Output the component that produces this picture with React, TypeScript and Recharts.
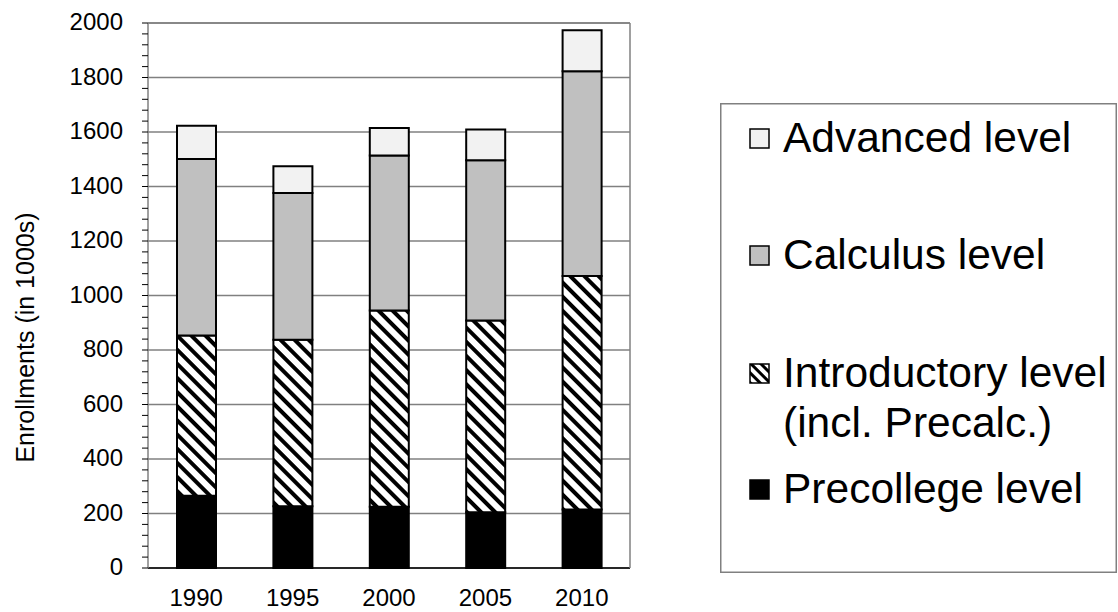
import { Bar, BarChart, CartesianGrid, Legend, XAxis, YAxis } from "recharts";

const years = ["1990", "1995", "2000", "2005", "2010"];
const precollege = [265, 227, 225, 205, 215];
const introductory = [588, 611, 720, 703, 857];
const calculus = [648, 538, 569, 588, 751];
const advanced = [122, 98, 101, 113, 150];

const majorTicks = [0, 200, 400, 600, 800, 1000, 1200, 1400, 1600, 1800, 2000];
// minor tick marks every 40 between the labelled ones
const minorTicks = Array.from({ length: 51 }, (_, i) => i * 40);
const edgeTicks = [0, 1, 2, 3, 4, 5];

const FONT = '"Liberation Sans", Arial, sans-serif';

const data = years.map((year, i) => ({
  year,
  precollege: precollege[i],
  introductory: introductory[i],
  calculus: calculus[i],
  advanced: advanced[i],
}));

const legendRows = [
  { label: ["Advanced level"], fill: "#f2f2f2", y: 49 },
  { label: ["Calculus level"], fill: "#c0c0c0", y: 166 },
  { label: ["Introductory level", "(incl. Precalc.)"], fill: "url(#hatchSmall)", y: 284 },
  { label: ["Precollege level"], fill: "#000", y: 400 },
];

function YTick({ x, y, payload }: any) {
  if (payload.value % 200 !== 0) return <g />;
  return (
    <text x={x} y={y} dy={7} textAnchor="end" fontFamily={FONT} fontSize={24} fill="#000">
      {payload.value}
    </text>
  );
}

function YLabel({ viewBox }: any) {
  const cx = 25;
  const cy = viewBox.y + viewBox.height / 2 + 42;
  return (
    <text
      x={cx}
      y={cy}
      transform={`rotate(-90, ${cx}, ${cy})`}
      textAnchor="middle"
      dominantBaseline="central"
      fontFamily={FONT}
      fontSize={25}
      fill="#000"
    >
      Enrollments (in 1000s)
    </text>
  );
}

function LegendBox() {
  return (
    <svg width={397} height={470} style={{ display: "block" }}>
      <defs>
        <pattern id="hatchSmall" patternUnits="userSpaceOnUse" width={7} height={7} patternTransform="rotate(45)">
          <rect width={7} height={7} fill="#fff" />
          <rect width={7} height={3} fill="#000" />
        </pattern>
      </defs>
      <rect x={0.75} y={0.75} width={395.5} height={468.5} fill="#fff" stroke="#808080" strokeWidth={1.5} />
      {legendRows.map((r) => (
        <g key={r.label[0]}>
          <rect x={30} y={r.y - 23} width={19} height={19} fill={r.fill} stroke="#000" strokeWidth={1.5} />
          {r.label.map((line, j) => (
            <text key={line} x={63} y={r.y + j * 50} fontFamily={FONT} fontSize={42.5} fill="#000">
              {line}
            </text>
          ))}
        </g>
      ))}
    </svg>
  );
}

export default function App() {
  return (
    <div style={{ position: "absolute", left: 0, top: 0, width: 1118, height: 612, background: "#fff" }}>
      <BarChart
        width={1118}
        height={612}
        data={data}
        margin={{ top: 22, right: 487, bottom: 0, left: 0 }}
        barSize={39}
      >
        <defs>
          <pattern id="hatch" patternUnits="userSpaceOnUse" width={10} height={10} patternTransform="rotate(45)">
            <rect width={10} height={10} fill="#fff" />
            <rect width={10} height={4} fill="#000" />
          </pattern>
        </defs>
        <CartesianGrid vertical={false} horizontalValues={majorTicks} stroke="#808080" strokeWidth={1.5} />
        <XAxis
          xAxisId="edges"
          type="number"
          domain={[0, 5]}
          ticks={edgeTicks}
          interval={0}
          height={1}
          tick={false}
          tickLine={{ stroke: "#000", strokeWidth: 1 }}
          tickSize={7}
          axisLine={false}
        />
        <XAxis
          dataKey="year"
          height={43}
          tickLine={false}
          axisLine={{ stroke: "#000", strokeWidth: 1.5 }}
          tickMargin={15}
          tick={{ fontFamily: FONT, fontSize: 24, fill: "#000" }}
        />
        <XAxis
          xAxisId="top"
          orientation="top"
          type="number"
          domain={[0, 5]}
          ticks={edgeTicks}
          height={1}
          tick={false}
          tickLine={false}
          axisLine={{ stroke: "#808080", strokeWidth: 1.5 }}
        />
        <YAxis
          domain={[0, 2000]}
          ticks={minorTicks}
          interval={0}
          width={148}
          tickSize={6}
          tickMargin={19}
          tickLine={{ stroke: "#000", strokeWidth: 1 }}
          axisLine={{ stroke: "#808080", strokeWidth: 1.5 }}
          tick={<YTick />}
          label={<YLabel />}
        />
        <YAxis
          yAxisId="right"
          orientation="right"
          domain={[0, 2000]}
          ticks={majorTicks}
          width={1}
          tick={false}
          tickLine={false}
          axisLine={{ stroke: "#808080", strokeWidth: 1.5 }}
        />
        <Legend
          layout="vertical"
          align="center"
          verticalAlign="middle"
          wrapperStyle={{ left: 720, top: 103, width: 397, height: 470 }}
          content={() => <LegendBox />}
        />
        <Bar dataKey="precollege" stackId="a" fill="#000" stroke="#000" strokeWidth={2} isAnimationActive={false} />
        <Bar dataKey="introductory" stackId="a" fill="url(#hatch)" stroke="#000" strokeWidth={2} isAnimationActive={false} />
        <Bar dataKey="calculus" stackId="a" fill="#c0c0c0" stroke="#000" strokeWidth={2} isAnimationActive={false} />
        <Bar dataKey="advanced" stackId="a" fill="#f2f2f2" stroke="#000" strokeWidth={2} isAnimationActive={false} />
      </BarChart>
    </div>
  );
}
